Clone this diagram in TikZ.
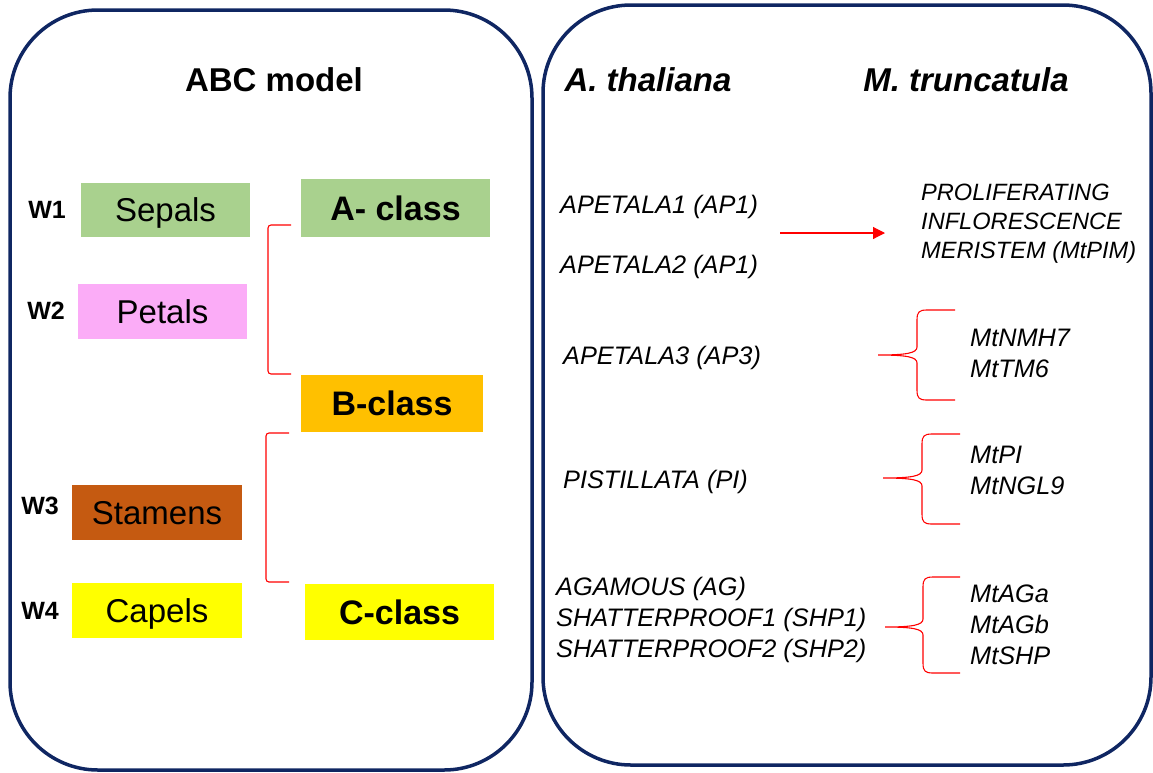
\documentclass[tikz,border=0pt]{standalone}
\usepackage{fontspec}
\setmainfont{Liberation Sans}
\usepackage{xcolor}
\usepackage{tikz}
\usetikzlibrary{arrows.meta, positioning}
\definecolor{panelblue}{HTML}{0F2662}
\definecolor{sepalgreen}{HTML}{A9D18E}
\definecolor{petalpink}{HTML}{FBACF7}
\definecolor{stamenbrown}{HTML}{C55A11}
\definecolor{capelyellow}{HTML}{FFFF00}
\definecolor{borange}{HTML}{FFC000}
\definecolor{linered}{HTML}{FF0000}

% curly brace: tip x, spine x, end x, top y, tip y, bottom y
\newcommand{\genebrace}[6]{%
  \draw[redline] (#3,#4) -- ({#2+10},#4) .. controls ({#2+2},#4) and (#2,{#4+2}) .. (#2,{#4+10})
    -- (#2,{#5-8}) .. controls (#2,{#5-2}) and ({#2-10},#5) .. (#1,#5)
    .. controls ({#2-10},#5) and (#2,{#5+2}) .. (#2,{#5+8})
    -- (#2,{#6-10}) .. controls (#2,{#6-2}) and ({#2+2},#6) .. ({#2+10},#6) -- (#3,#6);}

\begin{document}
\begin{tikzpicture}[x=1pt, y=-1pt,
    panel/.style={draw=panelblue, line width=3.5pt, rounded corners=88pt},
    box/.style={rectangle, inner sep=0pt, text depth=0pt, font=\fontsize{33}{38}\selectfont},
    classbox/.style={box, font=\fontsize{34}{38}\selectfont\bfseries},
    wlabel/.style={inner sep=0pt, font=\fontsize{25}{28}\selectfont\bfseries},
    title/.style={inner sep=0pt, font=\fontsize{33}{38}\selectfont\bfseries},
    gene/.style={inner sep=0pt, anchor=west, align=left, font=\fontsize{25.3}{31}\selectfont\itshape},
    redline/.style={draw=linered, line width=1.1pt},
    redarrow/.style={redline, -{Triangle[length=12pt, width=12pt]}}
]
\useasboundingbox (0,0) rectangle (1153,772);

% panels
\draw[panel] (10,10) rectangle (532,770);
\draw[panel] (543,5) rectangle (1151,765);

% left panel: ABC model
\node[title] (abc) at (274,80) {ABC model};

\node[box, fill=sepalgreen, minimum width=169pt, minimum height=54pt] (sepals) at (165.5,210) {Sepals};
\node[box, fill=petalpink, minimum width=169pt, minimum height=55pt] (petals) at (162.5,311.5) {Petals};
\node[box, fill=stamenbrown, minimum width=170pt, minimum height=55pt] (stamens) at (157,512.5) {Stamens};
\node[box, fill=capelyellow, minimum width=170pt, minimum height=55pt] (capels) at (157,610.5) {Capels};

\node[wlabel] (w1) at (47,210) {W1};
\node[wlabel] (w2) at (46,311) {W2};
\node[wlabel] (w3) at (40,506) {W3};
\node[wlabel] (w4) at (40,611) {W4};

\node[classbox, fill=sepalgreen, minimum width=189pt, minimum height=58pt] (aclass) at (395.5,208) {A- class};
\node[classbox, fill=borange, minimum width=182pt, minimum height=57pt] (bclass) at (392,403.5) {B-class};
\node[classbox, fill=capelyellow, minimum width=189pt, minimum height=56pt] (cclass) at (399.5,612) {C-class};

\draw[redline, rounded corners=3pt] (291,225) -- (268,225) -- (268,374) -- (291,374);
\draw[redline, rounded corners=3pt] (289,433) -- (266,433) -- (266,582) -- (289,582);

% right panel: species
\node[title, font=\fontsize{33}{38}\selectfont\bfseries\itshape] (ath) at (648,80) {A. thaliana};
\node[title, font=\fontsize{33}{38}\selectfont\bfseries\itshape] (mtr) at (966,80) {M. truncatula};

\node[gene] (ap1) at (560,207) {APETALA1 (AP1)};
\node[gene] (ap2) at (560,267) {APETALA2 (AP1)};
\node[gene] (ap3) at (563,358) {APETALA3 (AP3)};
\node[gene] (pist) at (563,482) {PISTILLATA (PI)};
\node[gene] (agam) at (556,620) {AGAMOUS (AG)\\SHATTERPROOF1 (SHP1)\\SHATTERPROOF2 (SHP2)};

\node[gene, font=\fontsize{23.6}{29}\selectfont\itshape] (pim) at (921,224) {PROLIFERATING\\INFLORESCENCE\\MERISTEM (MtPIM)};
\node[gene] (nmh) at (970,353.5) {MtNMH7\\MtTM6};
\node[gene] (mtpi) at (970,470.5) {MtPI\\MtNGL9};
\node[gene] (mtag) at (970,625) {MtAGa\\MtAGb\\MtSHP};

\coordinate (arrstart) at (780,233);
\coordinate (arrend) at (885,233);
\draw[redarrow] (arrstart) -- (arrend);

\genebrace{878}{917}{955}{310}{355}{400}
\genebrace{883}{922}{960}{434}{478}{524}
\genebrace{885}{923}{960}{577}{627}{673}

\end{tikzpicture}
\end{document}
